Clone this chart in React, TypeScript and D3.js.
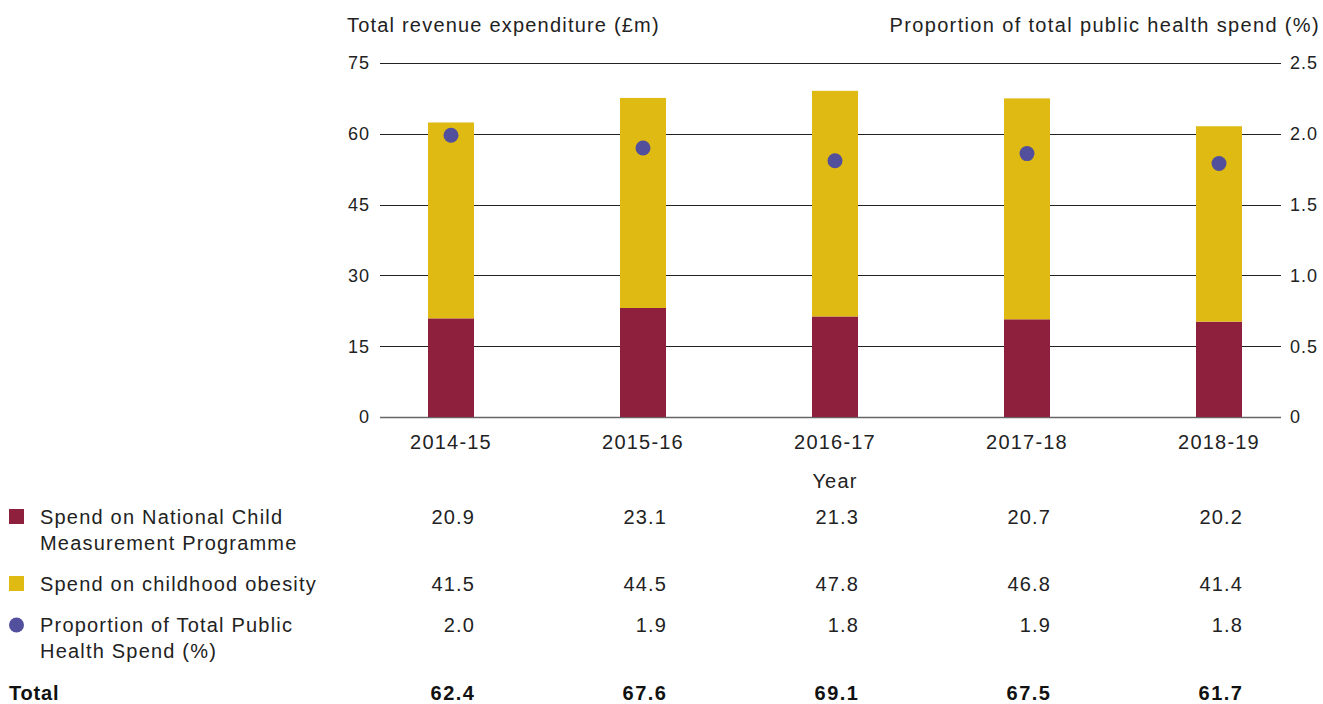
import React from "react";
import * as d3 from "d3";

const years = ["2014-15", "2015-16", "2016-17", "2017-18", "2018-19"];
const ncmpSpend = [20.9, 23.1, 21.3, 20.7, 20.2];
const obesitySpend = [41.5, 44.5, 47.8, 46.8, 41.4];
const totals = [62.4, 67.6, 69.1, 67.5, 61.7];
const proportion = [1.99, 1.9, 1.81, 1.86, 1.79];
const leftTicks = [0, 15, 30, 45, 60, 75];
const rightTicks = [0, 0.5, 1.0, 1.5, 2.0, 2.5];

const RED = "#8E1F3D";
const YELLOW = "#DFBA13";
const PURPLE = "#524F9D";
const TXT = "#222";
const FONT = "'Liberation Sans', Arial, sans-serif";

export default function App() {
  const W = 1323, H = 704;
  const x = d3.scaleBand<string>().domain(years).range([355, 1315]);
  const yL = d3.scaleLinear().domain([0, 75]).range([417, 63]);
  const yR = d3.scaleLinear().domain([0, 2.5]).range([417, 63]);
  const bw = 46;
  const cx = (y: string) => (x(y) as number) + x.bandwidth() / 2;
  const gridX0 = 380, gridX1 = 1281;
  const fs = 20;
  const ls = 1.2;

  const rows = [
    { kind: "rect", color: RED, lines: ["Spend on National Child", "Measurement Programme"], vals: ncmpSpend.map(v => v.toFixed(1)), y: 524 },
    { kind: "rect", color: YELLOW, lines: ["Spend on childhood obesity"], vals: obesitySpend.map(v => v.toFixed(1)), y: 591 },
    { kind: "circle", color: PURPLE, lines: ["Proportion of Total Public", "Health Spend (%)"], vals: proportion.map(v => v.toFixed(1)), y: 632 },
  ];

  return (
    <svg width={W} height={H} style={{ position: "absolute", left: 0, top: 0 }} fontFamily={FONT}>
      <rect width={W} height={H} fill="#fff" />
      <text x={347} y={32} fontSize={fs} letterSpacing={ls} fill={TXT}>Total revenue expenditure (£m)</text>
      <text x={1320} y={32} fontSize={fs} letterSpacing={1.35} fill={TXT} textAnchor="end">Proportion of total public health spend (%)</text>

      {leftTicks.map(t => (
        <g key={"g" + t}>
          <line x1={gridX0} x2={gridX1} y1={Math.round(yL(t)) + 0.5} y2={Math.round(yL(t)) + 0.5} stroke={t === 0 ? "#666" : "#222"} strokeWidth={t === 0 ? 1.5 : 1} />
          <text x={370} y={yL(t)} dy="0.35em" fontSize={18} letterSpacing={1} fill={TXT} textAnchor="end">{t}</text>
        </g>
      ))}
      {rightTicks.map(t => (
        <text key={"r" + t} x={1290} y={yR(t)} dy="0.35em" fontSize={18} letterSpacing={1} fill={TXT}>{t === 0 ? "0" : t.toFixed(1)}</text>
      ))}

      {years.map((yr, i) => (
        <g key={yr}>
          <rect x={cx(yr) - bw / 2} width={bw} y={yL(ncmpSpend[i])} height={yL(0) - yL(ncmpSpend[i])} fill={RED} />
          <rect x={cx(yr) - bw / 2} width={bw} y={yL(ncmpSpend[i] + obesitySpend[i])} height={yL(ncmpSpend[i]) - yL(ncmpSpend[i] + obesitySpend[i])} fill={YELLOW} />
          <circle cx={cx(yr)} cy={yR(proportion[i])} r={7.5} fill={PURPLE} />
          <text x={cx(yr)} y={449} fontSize={fs} letterSpacing={ls} fill={TXT} textAnchor="middle">{yr}</text>
        </g>
      ))}
      <text x={835} y={488} fontSize={fs} letterSpacing={ls} fill={TXT} textAnchor="middle">Year</text>

      {rows.map((r, ri) => (
        <g key={"row" + ri}>
          {r.kind === "rect" ? (
            <rect x={9} y={r.y - 15} width={15} height={15} fill={r.color} />
          ) : (
            <circle cx={16.5} cy={r.y - 7} r={7.5} fill={r.color} />
          )}
          {r.lines.map((l, li) => (
            <text key={li} x={40} y={r.y + li * 26} fontSize={fs} letterSpacing={ls} fill={TXT}>{l}</text>
          ))}
          {years.map((yr, i) => (
            <text key={yr} x={cx(yr) + bw / 2 + ls} y={r.y} fontSize={fs} letterSpacing={ls} fill={TXT} textAnchor="end">{r.vals[i]}</text>
          ))}
        </g>
      ))}
      <text x={9} y={700} fontSize={fs} fontWeight="bold" letterSpacing={0.8} fill="#111">Total</text>
      {years.map((yr, i) => (
        <text key={"t" + yr} x={cx(yr) + bw / 2 + 1.5} y={700} fontSize={fs} fontWeight="bold" letterSpacing={1.5} fill="#111" textAnchor="end">{totals[i].toFixed(1)}</text>
      ))}
    </svg>
  );
}
